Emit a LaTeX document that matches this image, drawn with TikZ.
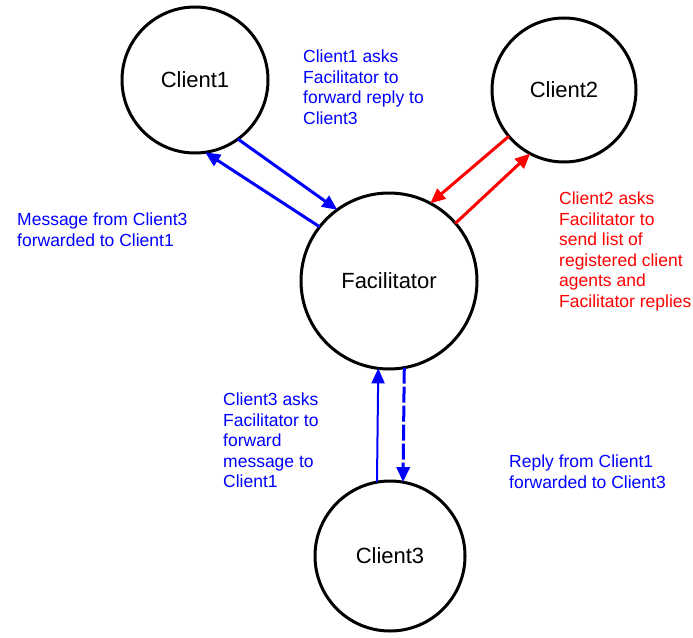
\documentclass[tikz,border=0pt]{standalone}
\usepackage{fontspec}
\setmainfont{Liberation Sans}
\usetikzlibrary{arrows.meta}
\definecolor{cblue}{RGB}{0,0,255}
\definecolor{cred}{RGB}{255,0,0}
\tikzset{
  agent/.style={circle, draw=black, line width=3pt, inner sep=0pt, outer sep=0pt,
    font=\fontsize{22}{26}\selectfont},
  note/.style={anchor=north west, inner sep=0pt, align=left,
    font=\fontsize{17.5}{20.5}\selectfont},
  tipx/.style={-{Triangle[length=15pt,width=13pt]}},
  bluearrow/.style={tipx, draw=cblue, line width=3pt},
  redarrow/.style={tipx, draw=cred, line width=3pt},
}
\begin{document}
\begin{tikzpicture}[x=1pt,y=-1pt]
\useasboundingbox (0,0) rectangle (693,637);
\node[agent, minimum size=146pt] (c1) at (195,80) {Client1};
\node[agent, minimum size=144pt] (c2) at (564,90) {Client2};
\node[agent, minimum size=176pt] (fac) at (389,281) {Facilitator};
\node[agent, minimum size=150pt] (c3) at (390,556) {Client3};

\draw[bluearrow] (c1.-54.4) -- (fac.126.5);
\draw[bluearrow] (fac.142.7) -- (c1.-82.2);
\draw[redarrow] (c2.-140.4) -- (fac.62.3);
\draw[redarrow] (fac.41.9) -- (c2.-118.4);
\draw[tipx, draw=cblue, fill=cblue, line width=2pt] (c3.100) -- (fac.-97.8);
\draw[tipx, draw=cblue, line width=3pt, dash pattern=on 16pt off 3pt] (fac.-80.85) -- (c3.80);

\node[note, text=cblue] (n1) at (303,50) {Client1 asks\\Facilitator to\\forward reply to\\Client3};
\node[note, text=cblue] (n2) at (17,213) {Message from Client3\\forwarded to Client1};
\node[note, text=cred] (n3) at (559,192) {Client2 asks\\Facilitator to\\send list of\\registered client\\agents and\\Facilitator replies};
\node[note, text=cblue] (n4) at (223,393) {Client3 asks\\Facilitator to\\forward\\message to\\Client1};
\node[note, text=cblue] (n5) at (509,455) {Reply from Client1\\forwarded to Client3};
\end{tikzpicture}
\end{document}
